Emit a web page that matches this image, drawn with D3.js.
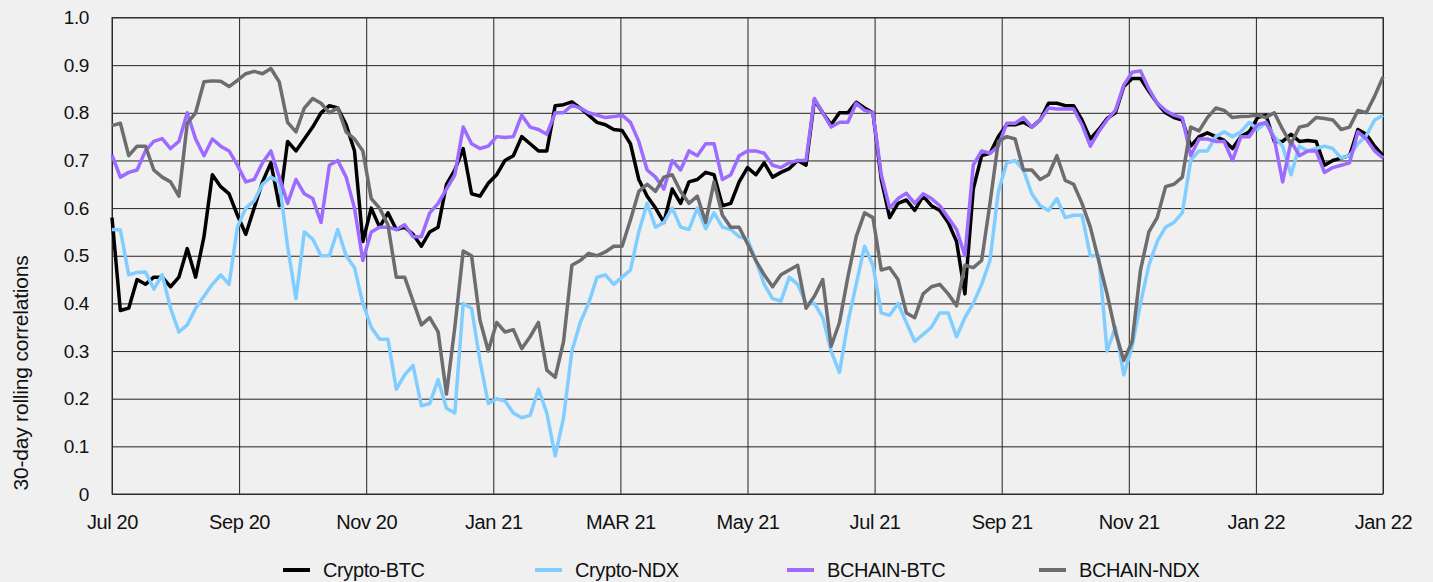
<!DOCTYPE html>
<html>
<head>
<meta charset="utf-8">
<script src="https://cdn.jsdelivr.net/npm/d3@7"></script>
<style>
  body { margin: 0; background: #f0f0f0; }
  svg { display: block; font-family: "Liberation Sans", Arial, sans-serif; }
</style>
</head>
<body>
<svg id="chart" width="1433" height="582"></svg>
<script>
// x tick labels (every 2 months, as printed in the source)
const tickLabels = ["Jul 20", "Sep 20", "Nov 20", "Jan 21", "MAR 21", "May 21",
  "Jul 21", "Sep 21", "Nov 21", "Jan 22", "Jan 22"];
const yTicks = [0, 0.1, 0.2, 0.3, 0.4, 0.5, 0.6, 0.7, 0.8, 0.9, 1.0];
const seriesNames = ["Crypto-BTC", "Crypto-NDX", "BCHAIN-BTC", "BCHAIN-NDX"];

// 30-day rolling correlations, one reading every ~4 days from Jul 2020
const cryptoBTC = [
  0.58,0.385,0.39,0.45,0.44,0.455,0.455,0.435,0.455,0.515,0.455,0.54,0.67,0.645,0.63,0.585,0.545,0.60,0.655,0.695,0.605,0.74,0.72,0.745,0.77,0.80,0.815,
  0.81,0.775,0.72,0.53,0.60,0.56,0.59,0.555,0.56,0.545,0.52,0.55,0.56,0.65,0.68,0.725,0.63,0.625,0.652,0.67,0.70,0.71,0.75,0.735,0.72,0.72,
  0.815,0.817,0.823,0.81,0.795,0.78,0.775,0.765,0.763,0.735,0.66,0.625,0.60,0.57,0.64,0.61,0.655,0.66,0.675,0.67,0.605,0.61,0.655,0.685,0.67,0.695,
  0.665,0.675,0.683,0.70,0.69,0.827,0.80,0.775,0.80,0.80,0.822,0.81,0.80,0.66,0.58,0.61,0.617,0.595,0.625,0.605,0.595,0.57,0.53,0.42,0.64,0.71,0.715,
  0.75,0.775,0.775,0.78,0.77,0.785,0.82,0.82,0.815,0.815,0.785,0.745,0.765,0.788,0.80,0.855,0.872,0.872,0.845,0.82,0.80,0.79,0.785,0.73,0.75,0.758,
  0.75,0.742,0.725,0.75,0.76,0.79,0.795,0.74,0.74,0.755,0.74,0.742,0.74,0.69,0.70,0.705,0.71,0.765,0.755,0.73,0.71
];
const cryptoNDX = [
  0.555,0.554,0.46,0.465,0.466,0.43,0.46,0.39,0.34,0.355,0.39,0.415,0.44,0.46,0.44,0.56,0.60,0.615,0.65,0.665,0.655,0.52,0.41,0.55,0.535,0.50,0.50,
  0.555,0.50,0.475,0.40,0.35,0.325,0.325,0.22,0.25,0.27,0.185,0.19,0.24,0.18,0.17,0.40,0.39,0.28,0.19,0.20,0.195,0.17,0.16,0.165,0.22,0.17,
  0.08,0.16,0.30,0.36,0.40,0.455,0.46,0.44,0.455,0.47,0.55,0.61,0.56,0.57,0.60,0.56,0.555,0.60,0.557,0.59,0.56,0.555,0.54,0.535,0.49,0.44,
  0.41,0.405,0.455,0.44,0.40,0.40,0.37,0.30,0.255,0.36,0.44,0.52,0.48,0.38,0.375,0.40,0.36,0.32,0.335,0.35,0.38,0.38,0.33,0.37,0.40,0.44,0.49,
  0.635,0.695,0.70,0.68,0.63,0.605,0.595,0.62,0.58,0.585,0.585,0.50,0.50,0.30,0.35,0.25,0.31,0.40,0.48,0.53,0.56,0.57,0.59,0.70,0.72,0.72,
  0.75,0.76,0.75,0.76,0.78,0.765,0.78,0.75,0.73,0.67,0.73,0.72,0.725,0.73,0.725,0.705,0.71,0.735,0.752,0.785,0.795
];
const bchainBTC = [
  0.711,0.665,0.675,0.68,0.72,0.74,0.746,0.725,0.74,0.80,0.745,0.71,0.745,0.73,0.72,0.69,0.655,0.66,0.695,0.72,0.665,0.61,0.66,0.63,0.62,0.57,0.69,
  0.70,0.665,0.60,0.49,0.55,0.56,0.56,0.555,0.565,0.54,0.54,0.59,0.61,0.64,0.67,0.77,0.735,0.725,0.73,0.75,0.748,0.75,0.795,0.77,0.765,0.755,
  0.80,0.80,0.816,0.81,0.80,0.795,0.79,0.792,0.795,0.78,0.74,0.68,0.665,0.64,0.70,0.68,0.72,0.71,0.735,0.735,0.66,0.67,0.71,0.72,0.72,0.715,
  0.69,0.685,0.695,0.70,0.70,0.83,0.80,0.77,0.78,0.78,0.82,0.805,0.80,0.67,0.60,0.62,0.631,0.61,0.63,0.62,0.605,0.58,0.555,0.50,0.69,0.72,0.715,
  0.73,0.778,0.778,0.79,0.77,0.785,0.81,0.808,0.808,0.808,0.775,0.73,0.76,0.785,0.805,0.858,0.885,0.888,0.85,0.82,0.805,0.795,0.79,0.71,0.745,0.745,
  0.74,0.74,0.70,0.75,0.75,0.775,0.78,0.745,0.655,0.74,0.71,0.72,0.72,0.675,0.685,0.69,0.695,0.76,0.745,0.72,0.705
];
const bchainNDX = [
  0.773,0.778,0.71,0.73,0.73,0.68,0.665,0.655,0.625,0.778,0.80,0.865,0.867,0.866,0.855,0.868,0.882,0.887,0.882,0.893,0.865,0.78,0.76,0.81,0.83,0.82,0.80,
  0.81,0.76,0.745,0.72,0.62,0.60,0.565,0.455,0.455,0.405,0.355,0.37,0.34,0.21,0.35,0.51,0.50,0.365,0.30,0.36,0.34,0.345,0.305,0.33,0.36,0.26,
  0.245,0.32,0.48,0.49,0.505,0.50,0.508,0.52,0.52,0.575,0.635,0.65,0.635,0.665,0.67,0.635,0.61,0.625,0.57,0.655,0.585,0.56,0.56,0.525,0.49,0.46,
  0.435,0.46,0.47,0.48,0.39,0.415,0.45,0.31,0.36,0.455,0.54,0.59,0.58,0.47,0.475,0.45,0.38,0.37,0.42,0.435,0.44,0.42,0.395,0.48,0.475,0.49,0.61,
  0.74,0.75,0.745,0.68,0.68,0.66,0.67,0.71,0.658,0.65,0.61,0.56,0.49,0.42,0.34,0.28,0.32,0.47,0.55,0.58,0.645,0.65,0.665,0.77,0.762,0.79,
  0.81,0.805,0.79,0.792,0.793,0.795,0.79,0.80,0.765,0.735,0.77,0.774,0.79,0.788,0.785,0.765,0.77,0.805,0.80,0.835,0.875
];

const colors = ["#000000", "#80cdff", "#9d6bff", "#6d6d70"];

const svg = d3.select("#chart");
const plotLeft = 112, plotRight = 1383, plotTop = 17.5, plotBottom = 494;
const n = cryptoBTC.length;

const x = d3.scaleLinear().domain([0, n - 1]).range([plotLeft, plotRight]);
const y = d3.scaleLinear().domain([0, 1]).range([plotBottom, plotTop]);

// y grid + labels
const yAxis = svg.append("g")
  .attr("transform", `translate(${plotLeft},0)`)
  .call(d3.axisLeft(y)
    .tickValues(yTicks)
    .tickSize(-(plotRight - plotLeft))
    .tickPadding(23)
    .tickFormat(d => d === 0 ? "0" : d.toFixed(1)));
yAxis.select(".domain").remove();
yAxis.selectAll("line").attr("stroke", "#222");
yAxis.selectAll("text")
  .attr("fill", "#111")
  .style("font-size", "19px")
  .style("letter-spacing", "-0.4px");

// x grid + labels
const xTickPos = tickLabels.map((t, k) => k * (n - 1) / (tickLabels.length - 1));
const xAxis = svg.append("g")
  .attr("transform", `translate(0,${plotBottom})`)
  .call(d3.axisBottom(x)
    .tickValues(xTickPos)
    .tickSize(-(plotBottom - plotTop))
    .tickPadding(21)
    .tickFormat((d, i) => tickLabels[i]));
xAxis.select(".domain").remove();
xAxis.selectAll("line").attr("stroke", "#222");
xAxis.selectAll("text")
  .attr("fill", "#111")
  .style("font-size", "20px")
  .style("letter-spacing", "-0.4px");

svg.append("rect")
  .attr("x", plotLeft).attr("y", plotTop)
  .attr("width", plotRight - plotLeft).attr("height", plotBottom - plotTop)
  .attr("fill", "none").attr("stroke", "#333");

// lines
const line = d3.line().x((d, i) => x(i)).y(d => y(d));
const allSeries = [cryptoBTC, cryptoNDX, bchainBTC, bchainNDX];
svg.selectAll(".series")
  .data(allSeries)
  .enter()
  .append("path")
  .attr("class", "series")
  .attr("d", line)
  .attr("fill", "none")
  .attr("stroke", (d, i) => colors[i])
  .attr("stroke-width", 3.5)
  .attr("stroke-linejoin", "round");

// y title
svg.append("text")
  .attr("transform", "translate(28,373) rotate(-90)")
  .attr("text-anchor", "middle")
  .attr("fill", "#111")
  .style("font-size", "21px")
  .style("letter-spacing", "-0.2px")
  .text("30-day rolling correlations");

// legend
const legend = svg.append("g").attr("transform", "translate(283,570)");
const item = legend.selectAll("g")
  .data(seriesNames)
  .enter()
  .append("g")
  .attr("transform", (d, i) => `translate(${i * 252},0)`);
item.append("line")
  .attr("x1", 0).attr("x2", 27)
  .attr("stroke", (d, i) => colors[i])
  .attr("stroke-width", 4);
item.append("text")
  .attr("x", 40)
  .attr("dy", "0.35em")
  .attr("fill", "#111")
  .style("font-size", "20px")
  .style("letter-spacing", "-0.4px")
  .text(d => d);
</script>
</body>
</html>
